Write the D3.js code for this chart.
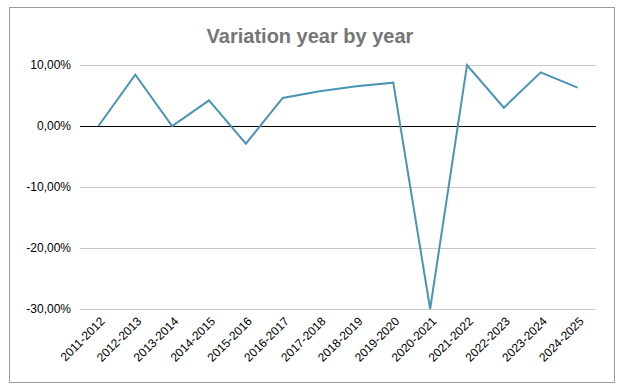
<!DOCTYPE html>
<html><head><meta charset="utf-8">
<script src="https://cdn.jsdelivr.net/npm/d3@7"></script>
<style>body{margin:0;background:#fff;font-family:"Liberation Sans",Arial,sans-serif;}</style>
</head><body><svg id="c" width="623" height="392"></svg>
<script>
const categories = ["2011-2012","2012-2013","2013-2014","2014-2015","2015-2016","2016-2017","2017-2018","2018-2019","2019-2020","2020-2021","2021-2022","2022-2023","2023-2024","2024-2025"];
const variation = [0.0, 8.4, 0.0, 4.2, -2.9, 4.6, 5.7, 6.5, 7.1, -30.0, 10.0, 3.0, 8.8, 6.3];
const yTicks = [10, 0, -10, -20, -30];
const title = "Variation year by year";

(function(){
const svg = d3.select("#c");
svg.append("rect").attr("x",9.5).attr("y",7.5).attr("width",605).attr("height",375)
  .attr("fill","#fff").attr("stroke","#9a9a9a").attr("stroke-width",1);

const pl=80, pr=596, pt=65, pb=309;
const x = d3.scaleBand().domain(categories).range([pl,pr]);
const y = d3.scaleLinear().domain([-30,10]).range([pb,pt]);

svg.append("text").attr("x",310).attr("y",43).attr("text-anchor","middle")
  .attr("font-size",20).attr("font-weight","bold").attr("fill","#767676").text(title);

const yAxis = d3.axisLeft(y).tickValues(yTicks).tickSize(-(pr-pl)).tickPadding(9)
  .tickFormat(d => d3.format(".2f")(d).replace(".",",").replace("\u2212","-") + "%");
const gy = svg.append("g").attr("transform",`translate(${pl},0)`).call(yAxis);
gy.select(".domain").remove();
gy.selectAll(".tick line").attr("stroke","#c8c8c8").attr("shape-rendering","crispEdges");
gy.selectAll(".tick text").attr("font-size",12).attr("fill","#000").attr("font-family","Liberation Sans, Arial, sans-serif");

svg.append("line").attr("x1",pl).attr("x2",pr).attr("y1",y(0)).attr("y2",y(0))
  .attr("stroke","#000").attr("stroke-width",1).attr("shape-rendering","crispEdges");

const xAxis = d3.axisBottom(x).tickSize(0).tickPadding(0);
const gx = svg.append("g").attr("transform",`translate(0,${pb})`).call(xAxis);
gx.select(".domain").remove();
gx.selectAll(".tick text").attr("font-size",12).attr("fill","#000")
  .attr("font-family","Liberation Sans, Arial, sans-serif")
  .attr("text-anchor","end").attr("dy","0.35em")
  .attr("transform","translate(4,10) rotate(-45)");

const line = d3.line().x((d,i)=>x(categories[i])+x.bandwidth()/2).y(d=>y(d));
svg.append("path").datum(variation).attr("d",line).attr("fill","none")
  .attr("stroke","#4a94b4").attr("stroke-width",2).attr("stroke-linejoin","miter");
})();
</script></body></html>
